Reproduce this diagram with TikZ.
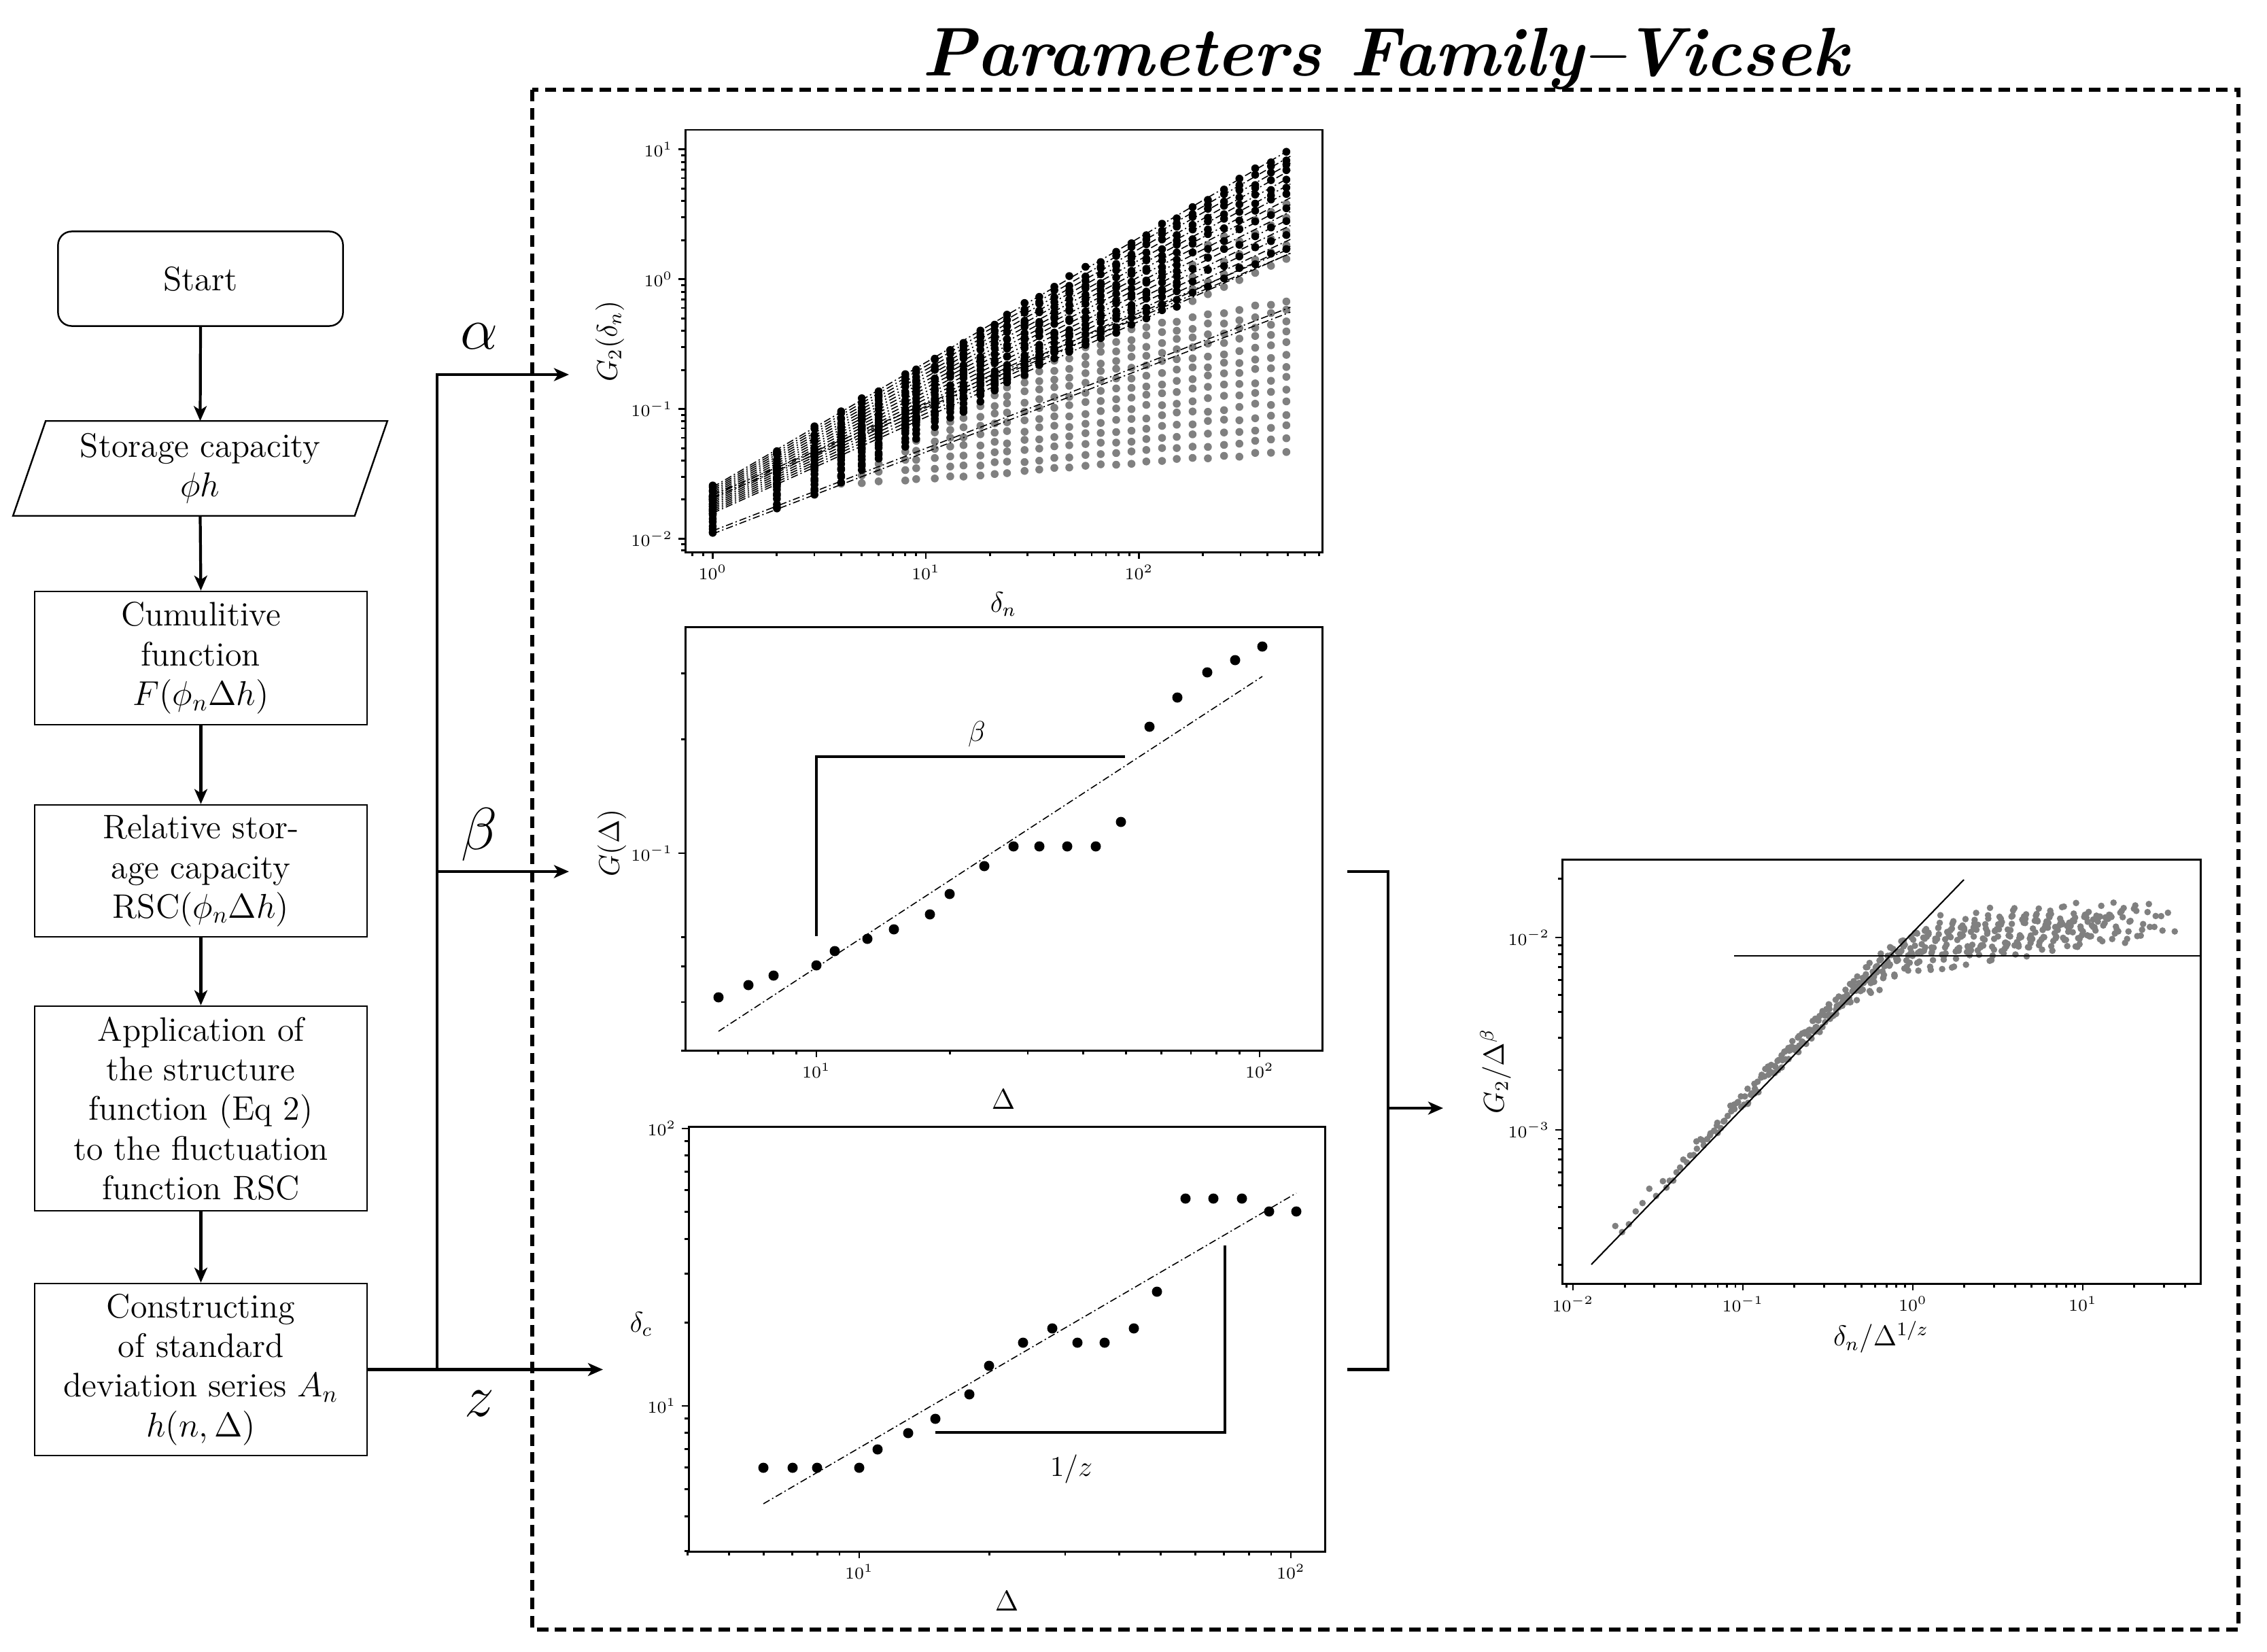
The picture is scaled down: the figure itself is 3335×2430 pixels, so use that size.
\documentclass[tikz,border=0pt]{standalone}
\usepackage{fontspec}
\usetikzlibrary{arrows.meta}
\definecolor{dotgray}{RGB}{128,128,128}
\newcommand\flowfont{\fontsize{14.2}{16.6}\selectfont}
\newcommand\tickfont{\fontsize{7.5}{9}\selectfont}
\newcommand\labfont{\fontsize{11.5}{13}\selectfont}
\newcommand\greekfont{\fontsize{27}{30}\selectfont}
\newcommand\titlefont{\fontsize{28.8}{34}\selectfont\bfseries\itshape}
\def\dlist{0,0.30103,0.47712,0.60206,0.69897,0.77815,0.90309,0.95424,1.04139,1.11394,1.17609,1.25527,1.32222,1.38021,1.46240,1.53148,1.60206,1.67210,1.74819,1.81954,1.89209,1.96379,2.03342,2.10721,2.17609,2.25042,2.32222,2.39794,2.46982,2.54407,2.61805,2.69020}
\begin{document}
\begin{tikzpicture}[x=0.01cm,y=-0.01cm,
  box/.style={draw,line width=0.7pt,align=center,font=\flowfont,inner sep=0pt},
  flow/.style={line width=1.2pt,-{Stealth[length=0.22cm,width=0.19cm,inset=0.06cm]}},
  frame/.style={line width=0.85pt},
  tick/.style={line width=0.8pt},
  ticklab/.style={font=\tickfont,inner sep=0pt},
  axlab/.style={font=\labfont,inner sep=0pt},
  fitline/.style={line width=0.45pt,dash pattern=on 3pt off 1.2pt on 0.6pt off 1.2pt},
  slope/.style={line width=0.9pt},
]
\useasboundingbox (0,0) rectangle (3335,2430);

% ---------------- title and dashed frame
\node[font=\titlefont,anchor=base] (title) at (2038,111) {Parameters Family--Vicsek};
\draw[line width=1.7pt,dash pattern=on 4.8pt off 2.8pt] (783,132) rectangle (3293,2397);

% ---------------- flowchart
\node[box,rounded corners=0.2cm,minimum width=4.19cm,minimum height=1.39cm] (start) at (295,410) {Start};
\node[font=\flowfont,align=center,minimum width=5.49cm,minimum height=1.38cm,inner sep=0pt] (sc) at (294.5,689) {Storage capacity\\$\phi h$};
\draw[line width=0.7pt] ([xshift=0.48cm]sc.north west) -- (sc.north east) -- ([xshift=-0.48cm]sc.south east) -- (sc.south west) -- cycle;
\node[box,minimum width=4.89cm,minimum height=1.96cm] (cum) at (295.5,968) {Cumulitive\\function\\$F(\phi_n\Delta h)$};
\node[box,minimum width=4.89cm,minimum height=1.94cm] (rel) at (295.5,1281) {Relative stor-\\age capacity\\RSC$(\phi_n\Delta h)$};
\node[box,minimum width=4.89cm,minimum height=3.01cm] (app) at (295.5,1630.5) {Application of\\the structure\\function (Eq 2)\\to the fluctuation\\function RSC};
\node[box,minimum width=4.89cm,minimum height=2.53cm] (con) at (295.5,2014.5) {Constructing\\of standard\\deviation series $A_n$\\$h(n,\Delta)$};

\draw[flow] (start.south) -- (sc.north);
\draw[flow] (sc.south) -- (cum.north);
\draw[flow] (cum.south) -- (rel.north);
\draw[flow] (rel.south) -- (app.north);
\draw[flow] (app.south) -- (con.north);

\coordinate (jz) at (643,2014.5);
\coordinate (ja) at (643,551);
\coordinate (jb) at (643,1282);
\coordinate (ta) at (837,551);
\coordinate (tb) at (837,1282);
\coordinate (tz) at (887,2014.5);
\draw[flow] (con.east) -- (tz);
\draw[flow] (jz) -- (ja) -- (ta);
\draw[flow] (jb) -- (tb);
\node[font=\greekfont,anchor=base] (la) at (705,513) {$\alpha$};
\node[font=\greekfont,anchor=base] (lb) at (705,1249) {$\beta$};
\node[font=\greekfont,anchor=base] (lz) at (705,2083) {$z$};

% ---------------- bracket to collapse plot
\coordinate (b1) at (1982,1282);
\coordinate (b2) at (2042,1282);
\coordinate (b3) at (2042,2014.5);
\coordinate (b4) at (1982,2014.5);
\coordinate (bm) at (2042,1630);
\coordinate (bt) at (2123,1630);
\draw[line width=1.3pt] (b1) -- (b2) -- (b3) -- (b4);
\draw[flow] (bm) -- (bt);

% =============== PLOT 1 : G2(delta_n)
\pgfmathsetseed{11}
\begin{scope}[shift={(1048.5,410.7)},x=3.135cm,y=1.91cm]
 \foreach \j in {0,...,13}{
   \pgfmathsetmacro\serU{\j/13}
   \pgfmathsetmacro\serA{-1.96+0.30*\serU}
   \pgfmathsetmacro\serS{0.63+0.07*\serU}
   \pgfmathsetmacro\serK{0.6+1.1*\serU}
   \pgfmathsetmacro\serB{0.12+0.19*\serU}
   \foreach \lx in \dlist {
     \pgfmathtruncatemacro\isb{\lx>\serK ? 0 : 1}
     \ifnum\isb=0
       \pgfmathsetmacro\ly{\serA+\serS*\serK+\serB*(\lx-\serK)+0.012*rand}
       \fill[dotgray] (\lx,\ly) circle[radius=0.058cm];
     \fi
   }
 }
 \foreach \k in {0,2,4,6,8}{
   \pgfmathsetmacro\serV{\k/15}
   \pgfmathsetmacro\serA{-1.80+0.20*\serV}
   \pgfmathsetmacro\serE{0.2+0.8*\serV}
   \pgfmathsetmacro\serS{(\serE-\serA)/2.709}
   \foreach \lx in \dlist {
     \pgfmathtruncatemacro\isg{\lx>2.2 ? 1 : 0}
     \ifnum\isg=1
       \pgfmathsetmacro\ly{\serA+\serS*\lx-0.03}
       \fill[dotgray] (\lx,\ly) circle[radius=0.058cm];
     \fi
   }
 }
 \foreach \j in {0,...,13}{
   \pgfmathsetmacro\serU{\j/13}
   \pgfmathsetmacro\serA{-1.96+0.30*\serU}
   \pgfmathsetmacro\serS{0.63+0.07*\serU}
   \pgfmathsetmacro\serK{0.6+1.1*\serU}
   \foreach \lx in \dlist {
     \pgfmathtruncatemacro\isb{\lx>\serK ? 0 : 1}
     \ifnum\isb=1
       \pgfmathsetmacro\ly{\serA+\serS*\lx+0.012*rand}
       \fill[black] (\lx,\ly) circle[radius=0.058cm];
     \fi
   }
 }
 \foreach \k in {0,...,15}{
   \pgfmathsetmacro\serV{\k/15}
   \pgfmathsetmacro\serA{-1.80+0.20*\serV}
   \pgfmathsetmacro\serE{0.2+0.8*\serV}
   \pgfmathsetmacro\serS{(\serE-\serA)/2.709}
   \pgfmathtruncatemacro\gr{(mod(\k,2)==0 && \k<10) ? 1 : 0}
   \foreach \lx in \dlist {
     \pgfmathtruncatemacro\isg{(\gr==1 && \lx>2.2) ? 1 : 0}
     \ifnum\isg=0
       \pgfmathsetmacro\ly{\serA+\serS*\lx+0.02*rand}
       \fill[black] (\lx,\ly) circle[radius=0.058cm];
     \fi
   }
 }
 \foreach \k in {0,...,15}{
   \pgfmathsetmacro\serV{\k/15}
   \pgfmathsetmacro\serA{-1.80+0.20*\serV}
   \pgfmathsetmacro\serE{0.2+0.8*\serV}
   \draw[fitline] (0,\serA) -- (2.709,\serE);
 }
 \foreach \j in {0,1,12,13}{
   \pgfmathsetmacro\serU{\j/13}
   \pgfmathsetmacro\serA{-1.96+0.30*\serU}
   \pgfmathsetmacro\serS{0.63+0.07*\serU}
   \pgfmathsetmacro\serE{\serA+2.709*\serS}
   \draw[fitline] (0,\serA) -- (2.709,\serE);
 }
\end{scope}
\draw[frame] (1008,191) rectangle (1945,812);
\foreach \e/\nm in {0/a,1/b,2/c}{
  \pgfmathsetmacro\X{1048.5+313.5*\e}
  \draw[tick] (\X,812) -- (\X,822);
  \node[ticklab,anchor=north] (p1x\nm) at (\X,830) {$10^{\e}$};
}
\foreach \m in {0.8,0.9,2,3,4,5,6,7,8,9,20,30,40,50,60,70,80,90,200,300,400,500,600,700}{
  \pgfmathsetmacro\X{1048.5+313.5*log10(\m)}
  \draw[tick] (\X,812) -- (\X,818);
}
\foreach \e/\nm in {1/a,0/b,-1/c,-2/d}{
  \pgfmathsetmacro\Y{410.7-191*\e}
  \draw[tick] (1008,\Y) -- (998,\Y);
  \node[ticklab,anchor=east] (p1y\nm) at (990,\Y) {$10^{\e}$};
}
\foreach \m in {0.008,0.009,0.02,0.03,0.04,0.05,0.06,0.07,0.08,0.09,0.2,0.3,0.4,0.5,0.6,0.7,0.8,0.9,2,3,4,5,6,7,8,9}{
  \pgfmathsetmacro\Y{410.7-191*log10(\m)}
  \draw[tick] (1008,\Y) -- (1002,\Y);
}
\node[axlab,rotate=90] (p1yl) at (897,502) {$G_2(\delta_n)$};
\node[axlab] (p1xl) at (1476,889) {$\delta_n$};

% =============== PLOT 2 : G(Delta)
\foreach \px/\py in {1057/1467,1101/1449,1138/1435,1201/1420,1228/1399,1276/1381,1315/1367,1368/1345,1397/1315,1448/1274,1491/1245,1529/1245,1570/1245,1612/1245,1649/1209,1691/1069,1732/1026,1776/989,1817/971,1857/951}{
  \fill[black] (\px,\py) circle[radius=0.075cm];
}
\coordinate (f2a) at (1057,1517);
\coordinate (f2b) at (1857,995);
\draw[fitline] (f2a) -- (f2b);
\coordinate (s2a) at (1201,1377);
\coordinate (s2b) at (1201,1113);
\coordinate (s2c) at (1655,1113);
\draw[slope] (s2a) -- (s2b) -- (s2c);
\node[axlab] (beta2) at (1437,1080) {$\beta$};
\draw[frame] (1008,922) rectangle (1945,1545);
\foreach \e/\nm in {1/a,2/b}{
  \pgfmathsetmacro\X{1201+652*(\e-1)}
  \draw[tick] (\X,1545) -- (\X,1555);
  \node[ticklab,anchor=north] (p2x\nm) at (\X,1563) {$10^{\e}$};
}
\foreach \m in {6,7,8,9,20,30,40,50,60,70,80,90}{
  \pgfmathsetmacro\X{1201+652*(log10(\m)-1)}
  \draw[tick] (\X,1545) -- (\X,1551);
}
\draw[tick] (1008,1255) -- (998,1255);
\node[ticklab,anchor=east] (p2ya) at (990,1255) {$10^{-1}$};
\foreach \m in {0.2,0.3,0.03,0.04,0.05,0.06}{
  \pgfmathsetmacro\Y{1255-555*(log10(\m)+1)}
  \draw[tick] (1008,\Y) -- (1002,\Y);
}
\node[axlab,rotate=90] (p2yl) at (900,1240) {$G(\Delta)$};
\node[axlab] (p2xl) at (1476,1617) {$\Delta$};

% =============== PLOT 3 : delta_c
\foreach \px/\py in {1123/2159,1166/2159,1202/2159,1264/2159,1291/2132,1336/2108,1376/2087,1426/2051,1455/2009,1505/1975,1548/1954,1585/1975,1625/1975,1668/1954,1702/1900,1744/1763,1785/1763,1827/1763,1867/1782,1907/1782}{
  \fill[black] (\px,\py) circle[radius=0.075cm];
}
\coordinate (f3a) at (1123,2212);
\coordinate (f3b) at (1907,1755);
\draw[fitline] (f3a) -- (f3b);
\coordinate (s3a) at (1376,2107);
\coordinate (s3b) at (1802,2107);
\coordinate (s3c) at (1802,1832);
\draw[slope] (s3a) -- (s3b) -- (s3c);
\node[font=\fontsize{13}{15}\selectfont,inner sep=0pt] (invz) at (1576,2161) {$1/z$};
\draw[frame] (1013,1657) rectangle (1949,2282);
\foreach \e/\nm in {1/a,2/b}{
  \pgfmathsetmacro\X{1264+635*(\e-1)}
  \draw[tick] (\X,2282) -- (\X,2292);
  \node[ticklab,anchor=north] (p3x\nm) at (\X,2300) {$10^{\e}$};
}
\foreach \m in {4,5,6,7,8,9,20,30,40,50,60,70,80,90}{
  \pgfmathsetmacro\X{1264+635*(log10(\m)-1)}
  \draw[tick] (\X,2282) -- (\X,2288);
}
\foreach \e/\nm in {1/a,2/b}{
  \pgfmathsetmacro\Y{2068-408*(\e-1)}
  \draw[tick] (1013,\Y) -- (1003,\Y);
  \node[ticklab,anchor=east] (p3y\nm) at (995,\Y) {$10^{\e}$};
}
\foreach \m in {3,4,5,6,7,8,9,20,30,40,50,60,70,80,90}{
  \pgfmathsetmacro\Y{2068-408*(log10(\m)-1)}
  \draw[tick] (1013,\Y) -- (1007,\Y);
}
\node[axlab] (p3yl) at (943,1948) {$\delta_c$};
\node[axlab] (p3xl) at (1481,2355) {$\Delta$};

% =============== PLOT 4 : collapse
\pgfmathsetseed{5}
\begin{scope}[shift={(2814,1379)},x=2.5cm,y=2.83cm]
 \foreach \k in {0,...,15}{
   \pgfmathsetmacro\cc{1.15+0.6*\k/15}
   \pgfmathsetmacro\qq{mod(\k*7,16)/15}
   \pgfmathsetmacro\Lk{-2.20+0.26*\qq}
   \pgfmathsetmacro\Sk{0.14-0.10*\qq}
   \foreach \ld in \dlist {
     \pgfmathsetmacro\lx{\ld-\cc}
     \pgfmathtruncatemacro\ok{\lx<1.55 ? 1 : 0}
     \ifnum\ok=1
      \pgfmathsetmacro\lline{-1.70+0.913*(\lx-0.30)}
      \pgfmathsetmacro\lplat{\Lk+\Sk*\lx}
      \pgfmathsetmacro\ly{min(\lline,\lplat)-log10(1+pow(10,-4*min(abs(\lline-\lplat),1.2)))/4+0.045*rand+0.04+2}
      \fill[dotgray] (\lx,\ly) circle[radius=0.048cm];
     \fi
   }
 }
\end{scope}
\coordinate (f4a) at (2341,1860);
\coordinate (f4b) at (2889,1294);
\draw[line width=0.6pt] (f4a) -- (f4b);
\coordinate (h4a) at (2551,1406);
\coordinate (h4b) at (3237,1406);
\draw[line width=0.6pt] (h4a) -- (h4b);
\draw[frame] (2298,1264) rectangle (3237,1888);
\foreach \e/\nm in {-2/a,-1/b,0/c,1/d}{
  \pgfmathsetmacro\X{2814+250*\e}
  \draw[tick] (\X,1888) -- (\X,1898);
  \node[ticklab,anchor=north] (p4x\nm) at (\X,1906) {$10^{\e}$};
}
\foreach \m in {0.009,0.02,0.03,0.04,0.05,0.06,0.07,0.08,0.09,0.2,0.3,0.4,0.5,0.6,0.7,0.8,0.9,2,3,4,5,6,7,8,9,20,30,40}{
  \pgfmathsetmacro\X{2814+250*log10(\m)}
  \draw[tick] (\X,1888) -- (\X,1894);
}
\foreach \e/\nm in {-2/a,-3/b}{
  \pgfmathsetmacro\Y{1379-283*(\e+2)}
  \draw[tick] (2298,\Y) -- (2288,\Y);
  \node[ticklab,anchor=east] (p4y\nm) at (2280,\Y) {$10^{\e}$};
}
\foreach \m in {0.0002,0.0003,0.0004,0.0005,0.0006,0.0007,0.0008,0.0009,0.002,0.003,0.004,0.005,0.006,0.007,0.008,0.009,0.02}{
  \pgfmathsetmacro\Y{1379-283*(log10(\m)+2)}
  \draw[tick] (2298,\Y) -- (2292,\Y);
}
\node[axlab,rotate=90] (p4yl) at (2200,1576) {$G_2/\Delta^{\beta}$};
\node[axlab] (p4xl) at (2767,1967) {$\delta_n/\Delta^{1/z}$};
\end{tikzpicture}
\end{document}
